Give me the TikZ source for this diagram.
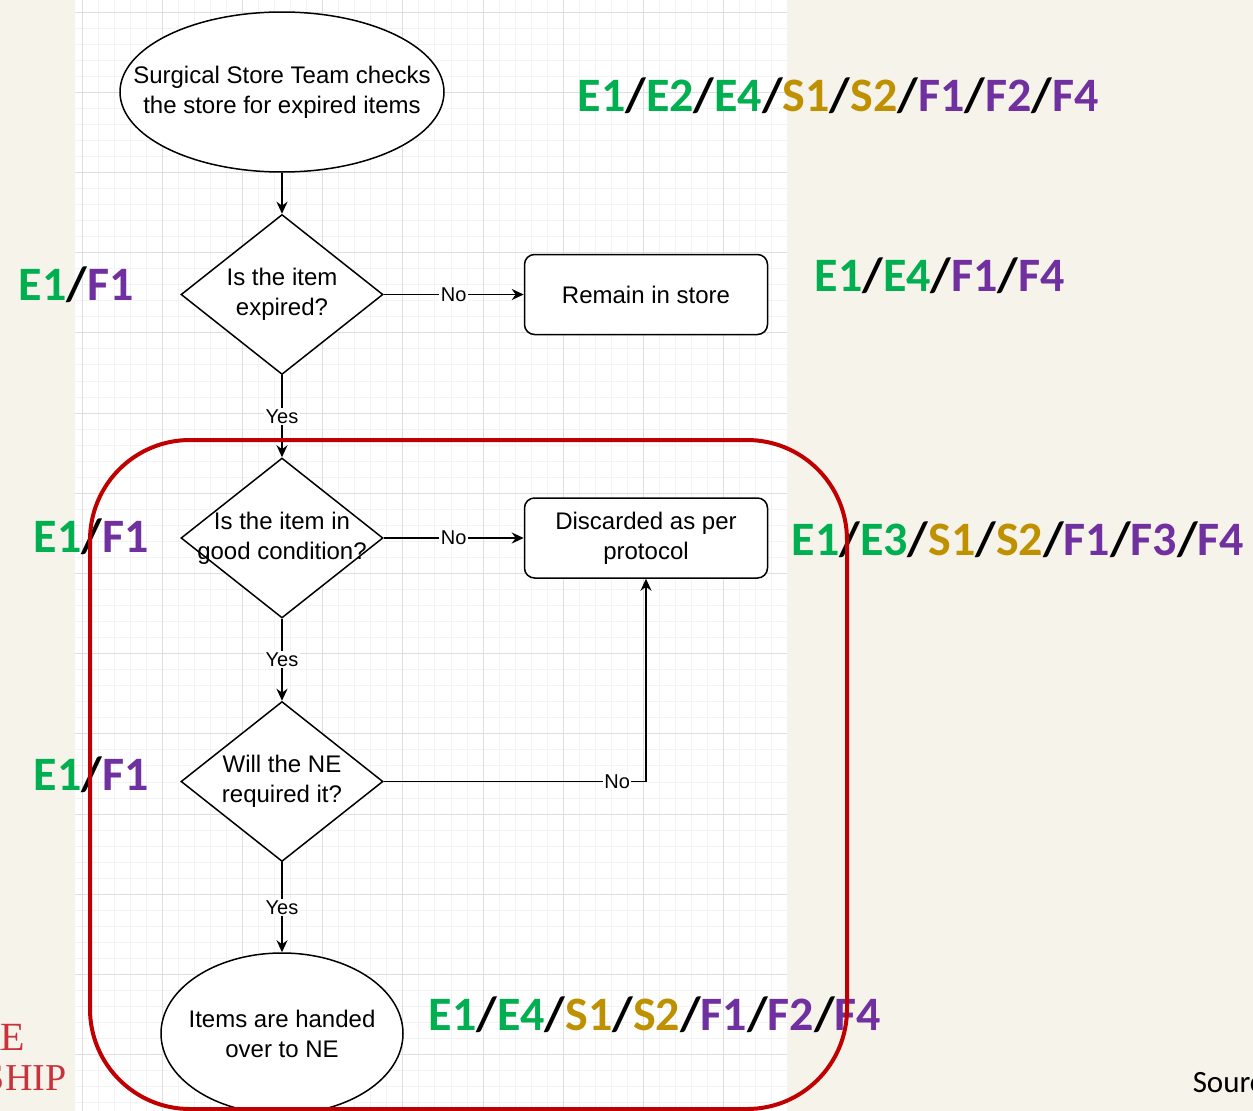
\documentclass[tikz,border=0pt]{standalone}
\usepackage{xcolor}
\usepackage{fontspec}
\setmainfont{Liberation Sans}
\newfontfamily\codefont{Carlito}
\newfontfamily\crestfont{Liberation Serif}
\usetikzlibrary{positioning, arrows.meta, shapes.geometric}

\definecolor{paper}{RGB}{246,243,235}
\definecolor{gridmajor}{RGB}{222,222,222}
\definecolor{gridminor}{RGB}{243,243,243}
\definecolor{codeE}{RGB}{0,176,80}
\definecolor{codeS}{RGB}{191,144,0}
\definecolor{codeF}{RGB}{112,48,160}
\definecolor{framered}{RGB}{192,0,0}
\definecolor{crestred}{RGB}{200,50,60}

\newcommand{\Ec}[1]{\textcolor{codeE}{#1}}
\newcommand{\Sc}[1]{\textcolor{codeS}{#1}}
\newcommand{\Fc}[1]{\textcolor{codeF}{#1}}
\newcommand{\slashsep}{\textcolor{black}{/}}

\begin{document}
\begin{tikzpicture}[x=1pt,y=-1pt,->,>={Stealth[length=12pt,width=11pt]},line width=1.5pt,
			terminal/.style={ellipse,draw,fill=white,inner sep=0pt},
			decision/.style={diamond,draw,fill=white,inner sep=0pt,minimum width=202pt,minimum height=160pt},
			process/.style={rectangle,rounded corners=10pt,draw,fill=white,minimum width=243pt,minimum height=80pt,
				align=center,font=\fontsize{24}{30}\selectfont},
			nodetext/.style={align=center,inner sep=0pt,font=\fontsize{24}{30}\selectfont},
			choice/.style={fill=white,inner sep=1.5pt,font=\fontsize{20}{24}\selectfont},
			codes/.style={inner sep=0pt,font=\codefont\bfseries\fontsize{48}{52}\selectfont}]
			
			% page and drawing grid
			\useasboundingbox[fill=paper] (0,0) rectangle (1253,1111);
			\fill[white,-] (75,0) rectangle (787,1111);
			\begin{scope}[-]
				\clip (75,0) rectangle (787,1111);
				\foreach \i in {0,...,50} \draw[gridminor,line width=0.8pt] ({1.8+16.04*\i},0) -- ({1.8+16.04*\i},1111);
				\foreach \i in {0,...,70} \draw[gridminor,line width=0.8pt] (75,{-4.04+16.04*\i}) -- (787,{-4.04+16.04*\i});
				\foreach \i in {0,...,10} \draw[gridmajor,line width=1pt] ({1.8+80.2*\i},0) -- ({1.8+80.2*\i},1111);
				\foreach \i in {0,...,14} \draw[gridmajor,line width=1pt] (75,{12+80.2*\i}) -- (787,{12+80.2*\i});
			\end{scope}
			
			% flow chart
			\node[terminal,minimum width=324pt,minimum height=160pt,
				label={[nodetext]center:Surgical Store Team checks\\the store for expired items}] (check) at (282,92) {};
			\node[decision,label={[nodetext]center:Is the item\\expired?}] (expired) [below=41pt of check] {};
			\node[process] (keep) [right=140pt of expired] {Remain in store};
			\node[decision,label={[nodetext]center:Is the item in\\good condition?}] (good) [below=82pt of expired] {};
			\node[process] (discard) [right=140pt of good] {Discarded as per\\protocol};
			\node[decision,label={[nodetext]center:Will the NE\\required it?}] (reuse) [below=82pt of good] {};
			\node[terminal,minimum width=242pt,minimum height=161pt,
				label={[nodetext]center:Items are handed\\over to NE}] (handover) [below=90pt of reuse] {};
			
			\draw (check) -- (expired);
			\draw (expired) -- node[choice] {No} (keep);
			\draw (expired) -- node[choice] {Yes} (good);
			\draw (good) -- node[choice] {No} (discard);
			\draw (good) -- node[choice] {Yes} (reuse);
			\draw (reuse.east) -| node[choice,pos=0.445] {No} (discard.south);
			\draw (reuse) -- node[choice] {Yes} (handover);
			
			% code labels
			\node[codes,anchor=base west] (codeCheck) at (577,111)
				{\Ec{E1}\slashsep\Ec{E2}\slashsep\Ec{E4}\slashsep\Sc{S1}\slashsep\Sc{S2}\slashsep\Fc{F1}\slashsep\Fc{F2}\slashsep\Fc{F4}};
			\node[codes,anchor=base west] (codeExpired) at (18,300) {\Ec{E1}\slashsep\Fc{F1}};
			\node[codes,anchor=base west] (codeKeep) at (814,291)
				{\Ec{E1}\slashsep\Ec{E4}\slashsep\Fc{F1}\slashsep\Fc{F4}};
			\node[codes,anchor=base west] (codeGood) at (33,552) {\Ec{E1}\slashsep\Fc{F1}};
			\node[codes,anchor=base west] (codeDiscard) at (791,555)
				{\Ec{E1}\slashsep\Ec{E3}\slashsep\Sc{S1}\slashsep\Sc{S2}\slashsep\Fc{F1}\slashsep\Fc{F3}\slashsep\Fc{F4}};
			\node[codes,anchor=base west] (codeReuse) at (33,790) {\Ec{E1}\slashsep\Fc{F1}};
			\node[codes,anchor=base west] (codeHandover) at (428,1030)
				{\Ec{E1}\slashsep\Ec{E4}\slashsep\Sc{S1}\slashsep\Sc{S2}\slashsep\Fc{F1}\slashsep\Fc{F2}\slashsep\Fc{F4}};
			
			% page decoration
			\node[anchor=base east,inner sep=0pt,text=crestred,font=\crestfont\fontsize{40}{44}\selectfont] (crestTop) at (26,1050) {RE};
			\node[anchor=base east,inner sep=0pt,text=crestred,font=\crestfont\fontsize{38}{42}\selectfont] (crestBottom) at (67,1090) {SHIP};
			\node[anchor=base west,inner sep=0pt,font=\codefont\fontsize{31}{34}\selectfont] (source) at (1192,1092) {Source};
			
			% highlighted region
			\draw[-,framered,line width=4pt,rounded corners=100pt] (90,440) rectangle (847,1109);
		\end{tikzpicture}
\end{document}
